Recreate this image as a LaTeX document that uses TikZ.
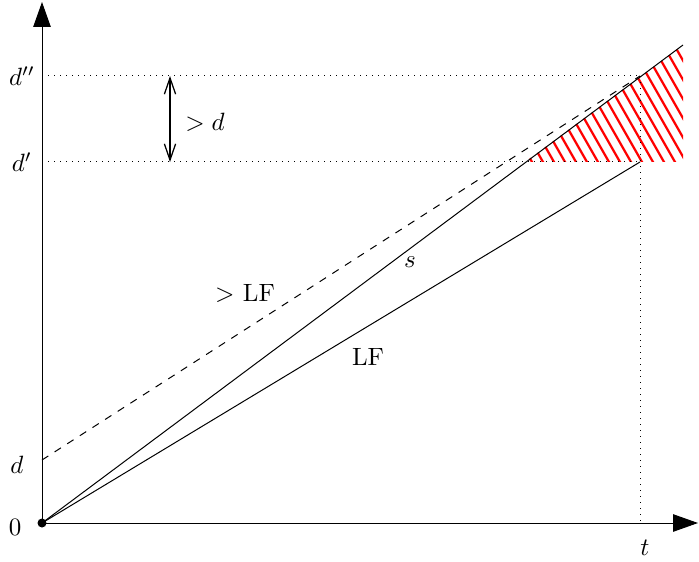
\documentclass[tikz,border=0pt]{standalone}
\usetikzlibrary{arrows.meta}
\begin{document}
\begin{tikzpicture}[x=0.4pt,y=0.4pt,
  axis/.style={line width=0.4pt,-{Triangle[length=10pt,width=7pt]}},
  guide/.style={dotted,line width=0.4pt},
  hatchline/.style={red,line width=0.9pt},
  lbl/.style={inner sep=0pt,anchor=center}]
\useasboundingbox (0,0) rectangle (699,561);
% named points
\coordinate (O) at (42,38);
\coordinate (ytip) at (42,559);
\coordinate (xtip) at (698,38);
\coordinate (dd) at (42,101);
\coordinate (dp) at (42,399);
\coordinate (dpp) at (42,485);
\coordinate (T) at (640,38);
\coordinate (Tdp) at (640,399);
\coordinate (Tdpp) at (640,485);
\coordinate (send) at (683,516);
\coordinate (hstart) at (525,399);
\coordinate (hcorner) at (683,399);
\coordinate (ar1) at (170,485);
\coordinate (ar2) at (170,399);
% hatched region
\begin{scope}
  \clip (hstart) -- (send) -- (hcorner) -- cycle;
  \foreach \c in {499,510,...,774} {
    \draw[hatchline] (\c-70,521.5) -- (\c+10,381.5);
  }
\end{scope}
% guides
\draw[guide] (dpp) -- (Tdpp);
\draw[guide] (dp) -- (Tdp);
\draw[guide] (Tdpp) -- (T);
% axes
\draw[axis] (O) -- (ytip);
\draw[axis] (O) -- (xtip);
% lines
\draw[line width=0.4pt] (O) -- (Tdp);
\draw[line width=0.4pt] (O) -- (send);
\draw[line width=0.4pt,dashed] (dd) -- (Tdpp);
% double arrow
\draw[line width=0.5pt,{Straight Barb[length=6.5pt,width=4.5pt]}-{Straight Barb[length=6.5pt,width=4.5pt]}] (ar1) -- (ar2);
\fill (O) circle (4.5);
% labels
\node[lbl] (l0) at (15,34) {$0$};
\node[lbl] (ld) at (17,96) {$d$};
\node[lbl] (ldp) at (22,399) {$d'$};
\node[lbl] (ldpp) at (22,485) {$d''$};
\node[lbl] (lt) at (645,13) {$t$};
\node[lbl] (ls) at (410,299) {$s$};
\node[lbl] (lglf) at (245,268) {$>$ LF};
\node[lbl] (llf) at (368,204) {LF};
\node[lbl] (lgd) at (205,439) {$> d$};
\end{tikzpicture}
\end{document}
